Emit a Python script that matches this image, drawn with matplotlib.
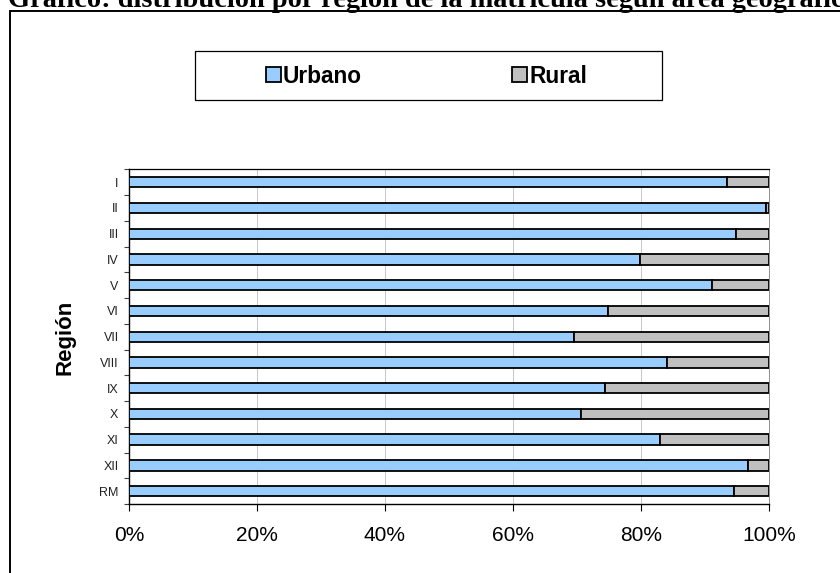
import matplotlib
matplotlib.use("Agg")
import matplotlib.pyplot as plt
from matplotlib.patches import Rectangle
from matplotlib.ticker import FixedLocator, FuncFormatter

plt.rcParams['font.family'] = ['Liberation Sans', 'DejaVu Sans']

regions = ["I", "II", "III", "IV", "V", "VI", "VII", "VIII", "IX", "X", "XI", "XII", "RM"]
urbano = [93.5, 99.5, 94.9, 79.8, 91.1, 74.8, 69.6, 84.0, 74.3, 70.6, 82.9, 96.7, 94.5]
rural = [6.5, 0.5, 5.1, 20.2, 8.9, 25.2, 30.4, 16.0, 25.7, 29.4, 17.1, 3.3, 5.5]
xticks = [0, 20, 40, 60, 80, 100]
title = "Gráfico: distribución por región de la matrícula según área geográfica"

W, H = 840, 573
fig = plt.figure(figsize=(W / 100, H / 100), dpi=100)
fig.patch.set_facecolor("white")

# plot area in pixels
L, R, T, B = 129, 769, 169.3, 504
ax = fig.add_axes([L / W, 1 - B / H, (R - L) / W, (B - T) / H])

pos = [i + 0.5 for i in range(len(regions))]
h_u = ax.barh(pos, urbano, height=0.40, color="#99CCFF", edgecolor="black",
              linewidth=1.3, label="Urbano", zorder=3)
h_r = ax.barh(pos, rural, left=urbano, height=0.40, color="#C0C0C0",
              edgecolor="black", linewidth=1.3, label="Rural", zorder=3)

ax.set_xlim(0, 100)
ax.set_ylim(len(regions), 0)

ax.xaxis.set_major_locator(FixedLocator(xticks))
ax.xaxis.set_major_formatter(FuncFormatter(lambda v, p: f"{int(v)}%"))
ax.tick_params(axis="x", direction="out", length=5, width=0.8, pad=11,
               labelsize=15, colors="black")
ax.grid(axis="x", color="#C8C8C8", linewidth=0.7, zorder=0)

ax.yaxis.set_major_locator(FixedLocator(list(range(len(regions) + 1))))
ax.yaxis.set_major_formatter(FuncFormatter(lambda v, p: ""))
ax.yaxis.set_minor_locator(FixedLocator(pos))
ax.set_yticklabels(regions, minor=True)
ax.tick_params(axis="y", which="major", direction="out", length=3.5, width=0.8,
               color="#404040")
ax.tick_params(axis="y", which="minor", length=0, pad=7.5, labelsize=9,
               labelcolor="#222222")

for s in ["left", "bottom"]:
    ax.spines[s].set_linewidth(1.0)
    ax.spines[s].set_color("black")
ax.spines["top"].set_linewidth(0.9)
ax.spines["top"].set_color("black")
ax.spines["right"].set_linewidth(0.7)
ax.spines["right"].set_color("#909090")

fig.text(65 / W, 1 - 337 / H, "Región", rotation=90, ha="center", va="center",
         fontsize=16, fontweight="bold")

# legend box
lx0, lx1, ly0, ly1 = 195, 662, 51, 100
fig.add_artist(Rectangle((lx0 / W, 1 - ly1 / H), (lx1 - lx0) / W, (ly1 - ly0) / H,
                         transform=fig.transFigure, fill=False, edgecolor="black",
                         linewidth=0.9, zorder=5))
fs_leg = 16.3
em = fs_leg * 100 / 72
fig.legend(handles=[h_u, h_r], labels=["Urbano", "Rural"], ncol=2,
           loc="center", bbox_to_anchor=(((lx0 + lx1) / 2 - 2) / W, 1 - 76 / H),
           frameon=False, prop={"size": fs_leg, "weight": "bold"},
           handlelength=15 / em, handleheight=15 / em, handletextpad=2.0 / em,
           columnspacing=150 / em, borderpad=0, borderaxespad=0)

# outer frame (extends beyond right/bottom edge)
fig.add_artist(Rectangle((9.5 / W, -0.1), 1.2, 1.1 - 11 / H,
                         transform=fig.transFigure, fill=False, edgecolor="black",
                         linewidth=1.4, zorder=5))

fig.text(8 / W, 1 - 7 / H, title, ha="left", va="baseline", fontsize=20.4,
         fontweight="bold", family=["Liberation Serif", "DejaVu Serif"])

fig.savefig("out.png", dpi=100)
